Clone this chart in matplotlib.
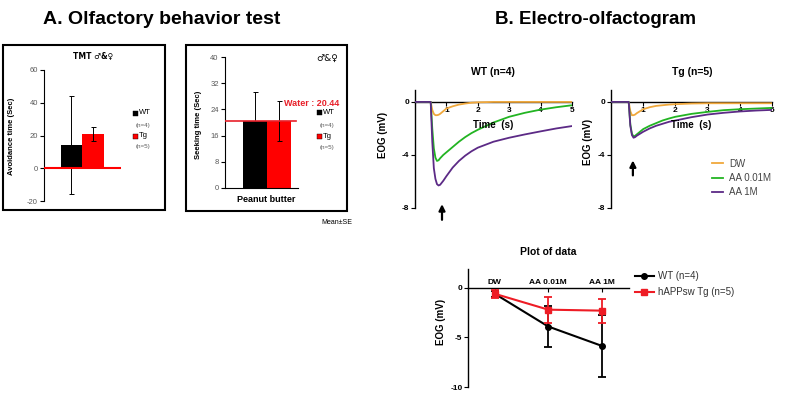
import matplotlib
matplotlib.use('Agg')
import matplotlib.pyplot as plt
from matplotlib.patches import Rectangle
from matplotlib.lines import Line2D

plt.rcParams['font.family'] = ['Liberation Sans', 'DejaVu Sans']
plt.rcParams['axes.unicode_minus'] = False

# ---------------- data ----------------
groups = ['WT', 'Tg']
group_n = ['(n=4)', '(n=5)']
tmt_mean = [14.0, 20.7]
tmt_se = [30.0, 4.3]
peanut_mean = [20.6, 20.4]
peanut_se = [8.8, 6.2]
water_level = 20.44

eog_time = [0, 0.5, 0.55, 0.6, 0.65, 0.7, 0.75, 0.8, 0.9, 1.0, 1.2, 1.4, 1.6,
            1.8, 2.0, 2.5, 3.0, 3.5, 4.0, 4.5, 5.0]
wt_dw = [0, 0, -0.6, -0.9, -1.0, -1.0, -0.97, -0.9, -0.7, -0.5, -0.33, -0.2,
         -0.12, -0.06, -0.03, 0, 0, 0, 0, 0, 0]
wt_aa001 = [0, 0, -2.0, -3.5, -4.2, -4.45, -4.4, -4.25, -4.0, -3.8, -3.4, -3.0,
            -2.65, -2.35, -2.1, -1.55, -1.12, -0.82, -0.58, -0.4, -0.25]
wt_aa1 = [0, 0, -3.0, -5.0, -5.8, -6.2, -6.3, -6.25, -5.95, -5.6, -4.95, -4.45,
          -4.05, -3.72, -3.45, -3.0, -2.7, -2.45, -2.22, -2.0, -1.82]
tg_dw = [0, 0, 0, -0.7, -1.0, -1.0, -0.95, -0.85, -0.7, -0.55, -0.4, -0.3,
         -0.25, -0.2, -0.17, -0.12, -0.1, -0.1, -0.1, -0.1, -0.1]
tg_aa001 = [0, 0, 0, -1.7, -2.4, -2.6, -2.55, -2.45, -2.25, -2.05, -1.8, -1.6,
            -1.4, -1.25, -1.12, -0.9, -0.75, -0.62, -0.55, -0.5, -0.45]
tg_aa1 = [0, 0, 0, -1.8, -2.5, -2.7, -2.65, -2.55, -2.4, -2.25, -2.0, -1.8,
          -1.65, -1.5, -1.4, -1.15, -0.95, -0.82, -0.72, -0.65, -0.6]
eog_labels = ['DW', 'AA 0.01M', 'AA 1M']

stimuli = ['DW', 'AA 0.01M', 'AA 1M']
sum_wt_mean = [-0.6, -3.9, -5.85]
sum_wt_err = [0.3, 2.1, 3.15]
sum_tg_mean = [-0.6, -2.2, -2.3]
sum_tg_err = [0.4, 1.3, 1.2]
sum_labels = ['WT (n=4)', 'hAPPsw Tg (n=5)']

# ---------------- figure ----------------
W, H = 796, 394
fig = plt.figure(figsize=(W / 100, H / 100), dpi=100)


def px_axes(x0, y0, x1, y1):
    return fig.add_axes([x0 / W, 1 - y1 / H, (x1 - x0) / W, (y1 - y0) / H])


def ftext(x, y, s, **kw):
    return fig.text(x / W, 1 - y / H, s, **kw)


# headers
ftext(43, 20, 'A. Olfactory behavior test', fontsize=14, fontweight='bold', va='center')
ftext(495, 20, 'B. Electro-olfactogram', fontsize=13.5, fontweight='bold', va='center')

# frames for panel A
for (x0, y0, x1, y1) in [(3, 45, 165, 210), (186, 45, 347, 211)]:
    fig.patches.append(Rectangle((x0 / W, 1 - y1 / H), (x1 - x0) / W, (y1 - y0) / H,
                                 transform=fig.transFigure, fill=False,
                                 edgecolor='black', lw=1.5))

bar_colors = ['black', 'red']
tick_gray = '#595959'

# ---- A1: TMT ----
ax1 = px_axes(44, 70, 121, 201)
ax1.set_xlim(0, 1)
ax1.set_ylim(-20, 60)
ax1.bar([0.355, 0.635], tmt_mean, width=0.28, color=bar_colors, yerr=tmt_se,
        error_kw=dict(ecolor='black', elinewidth=0.7, capsize=1.8, capthick=0.7))
ax1.axhline(0, color='red', lw=1.5, zorder=4)
for s in ['top', 'right', 'bottom']:
    ax1.spines[s].set_visible(False)
ax1.spines['left'].set_linewidth(0.8)
ax1.set_xticks([])
ax1.set_yticks([-20, 0, 20, 40, 60])
ax1.tick_params(axis='y', labelsize=5.5, labelcolor=tick_gray, length=3, width=0.8, pad=1.5)
ax1.set_ylabel('Avoidance time (Sec)', fontsize=5.5, fontweight='bold')
ax1.yaxis.set_label_coords(-0.38, 0.49)
ftext(93, 57, 'TMT ♂&♀', fontsize=5.5, fontweight='bold', ha='center', va='center',
      family='DejaVu Sans')

# ---- A2: Peanut butter ----
ax2 = px_axes(225, 57, 298, 188)
ax2.set_xlim(0, 1)
ax2.set_ylim(0, 40)
ax2.bar([0.41, 0.74], peanut_mean, width=0.33, color=bar_colors, yerr=peanut_se,
        error_kw=dict(ecolor='black', elinewidth=0.7, capsize=1.8, capthick=0.7))
ax2.axhline(water_level, color='#e8202a', lw=1.2, xmin=0, xmax=0.97, zorder=4)
for s in ['top', 'right']:
    ax2.spines[s].set_visible(False)
ax2.spines['left'].set_linewidth(0.8)
ax2.spines['bottom'].set_linewidth(0.8)
ax2.set_xticks([])
ax2.set_yticks(range(0, 41, 8))
ax2.tick_params(axis='y', labelsize=5.5, labelcolor=tick_gray, length=3, width=0.8, pad=1.5)
ax2.set_ylabel('Seeking time (Sec)', fontsize=5.5, fontweight='bold')
ax2.yaxis.set_label_coords(-0.315, 0.48)
ftext(312, 104, 'Water : %.2f' % water_level, fontsize=6.5, fontweight='bold',
      color='#e8202a', ha='center', va='center')
ftext(266, 200, 'Peanut butter', fontsize=6.5, fontweight='bold', ha='center', va='center')
ftext(327, 58, '♂&♀', fontsize=6.5, ha='center', va='center', family='DejaVu Sans')
ftext(352, 222, 'Mean±SE', fontsize=5, ha='right', va='center')

# legends of panel A
for (sx, ys) in [(133, (113, 125, 136, 147)), (317, (112, 125, 137, 148))]:
    for gi in range(2):
        yl, yn = ys[2 * gi], ys[2 * gi + 1]
        fig.patches.append(Rectangle((sx / W, 1 - (yl + 2.5) / H), 5 / W, 5 / H,
                                     transform=fig.transFigure,
                                     facecolor=bar_colors[gi], edgecolor='black', lw=0.3))
        ftext(sx + 5.5, yl, groups[gi], fontsize=5.5, va='center')
        ftext(sx + 3, yn, group_n[gi], fontsize=4.5, va='center', color=tick_gray)

# ---- B1/B2: EOG traces ----
eog_colors = ['#f0a83c', '#22b422', '#5c2a86']


def eog_axes(x0, x1, series, title, tx, label_xy, arrow_t, arrow_y):
    ax = px_axes(x0, 90, x1, 208)
    ax.set_xlim(0, 5)
    ax.set_ylim(-8, 0.9)
    for ys, c in zip(series, eog_colors):
        ax.plot(eog_time, ys, color=c, lw=1.3, solid_joinstyle='round', zorder=3)
    ax.spines['bottom'].set_position(('data', 0))
    for s in ['top', 'right']:
        ax.spines[s].set_visible(False)
    ax.spines['left'].set_linewidth(1.0)
    ax.spines['bottom'].set_linewidth(1.0)
    ax.set_xticks([1, 2, 3, 4, 5])
    ax.set_yticks([0, -4, -8])
    ax.tick_params(axis='x', labelsize=6, length=3, width=0.8, pad=0.5)
    ax.tick_params(axis='y', labelsize=6, length=3, width=0.8, pad=1)
    for lab in ax.get_xticklabels() + ax.get_yticklabels():
        lab.set_fontweight('bold')
    ax.set_ylabel('EOG (mV)', fontsize=7, fontweight='bold')
    ax.yaxis.set_label_coords(*label_xy)
    ax.text(2.5, -1.75, 'Time  (s)', fontsize=7, fontweight='bold', ha='center', va='center')
    ax.annotate('', xy=(arrow_t, arrow_y[1]), xytext=(arrow_t, arrow_y[0]),
                arrowprops=dict(arrowstyle='-|>', color='black', lw=1.6,
                                mutation_scale=9),
                annotation_clip=False)
    ftext(tx, 72, title, fontsize=7.5, fontweight='bold', ha='center', va='center')
    return ax


axb1 = eog_axes(415, 572, [wt_dw, wt_aa001, wt_aa1], 'WT (n=4)', 493,
                (-0.17, 0.62), 0.86, (-9.1, -7.5))
axb2 = eog_axes(611, 772, [tg_dw, tg_aa001, tg_aa1], 'Tg (n=5)', 692,
                (-0.11, 0.56), 0.68, (-5.75, -4.2))

eog_handles = [Line2D([], [], color=c, lw=1.3) for c in eog_colors]
fig.legend(eog_handles, eog_labels, loc='center left',
           bbox_to_anchor=(703 / W, 1 - 178 / H), frameon=False, fontsize=7,
           handlelength=1.2, handletextpad=0.6, labelspacing=0.45,
           labelcolor='#444444')

# ---- B3: summary ----
ax3 = px_axes(468, 269, 628.5, 387)
ax3.set_xlim(-0.5, 2.5)
ax3.set_ylim(-10, 1.9)
xs = list(range(len(stimuli)))
ax3.errorbar(xs, sum_wt_mean, yerr=sum_wt_err, fmt='-o', color='black', ms=4,
             lw=1.5, capsize=3, capthick=1.3, elinewidth=1.3, zorder=3)
ax3.errorbar(xs, sum_tg_mean, yerr=sum_tg_err, fmt='-s', color='#ee1c25', ms=4.5,
             lw=1.5, capsize=3, capthick=1.3, elinewidth=1.3, zorder=4)
ax3.spines['top'].set_position(('data', 0))
ax3.spines['bottom'].set_visible(False)
ax3.spines['right'].set_visible(False)
ax3.spines['top'].set_linewidth(1.0)
ax3.spines['left'].set_linewidth(1.0)
ax3.xaxis.set_ticks_position('top')
ax3.set_xticks(xs)
ax3.set_xticklabels(stimuli)
ax3.set_yticks([0, -5, -10])
ax3.tick_params(axis='x', direction='in', labelsize=6, length=3, width=0.8, pad=1)
ax3.tick_params(axis='y', labelsize=6, length=3, width=0.8, pad=1)
for lab in ax3.get_xticklabels() + ax3.get_yticklabels():
    lab.set_fontweight('bold')
ax3.set_ylabel('EOG (mV)', fontsize=7, fontweight='bold')
ax3.yaxis.set_label_coords(-0.14, 0.55)
ftext(548, 252, 'Plot of data', fontsize=7.5, fontweight='bold', ha='center', va='center')

sum_handles = [Line2D([], [], color='black', marker='o', ms=4, lw=1.5),
               Line2D([], [], color='#ee1c25', marker='s', ms=4.5, lw=1.5)]
fig.legend(sum_handles, sum_labels, loc='center left',
           bbox_to_anchor=(626 / W, 1 - 284 / H), frameon=False, fontsize=7,
           handlelength=2.0, handletextpad=0.4, labelspacing=0.6,
           labelcolor='#333333')

fig.savefig('out.png', dpi=100)
